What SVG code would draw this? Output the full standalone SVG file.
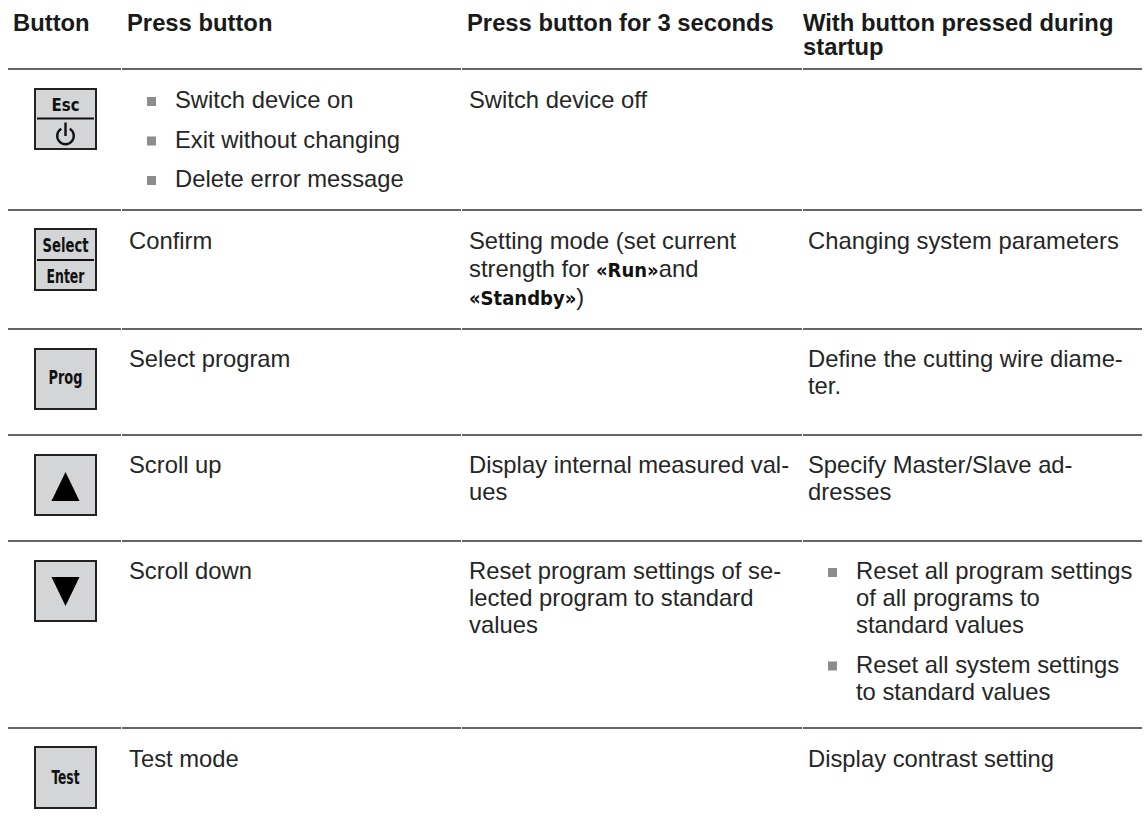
<svg xmlns="http://www.w3.org/2000/svg" width="1148" height="830" viewBox="0 0 1148 830">
<style>
  .hd { font-family: "Liberation Sans", Arial, sans-serif; font-size: 23.8px; font-weight: bold; fill: #1a1a1a; }
  .tx { font-family: "Liberation Sans", Arial, sans-serif; font-size: 23.8px; fill: #262626; }
  .kb { font-family: "Liberation Sans Narrow", "DejaVu Sans Condensed", "Liberation Sans", sans-serif; font-weight: bold; fill: #111; }
  .em { font-family: "Liberation Sans Narrow", "DejaVu Sans Condensed", "Liberation Sans", sans-serif; font-weight: bold; font-size: 20px; fill: #111; }
  .key { fill: #d4d5d7; stroke: #222; stroke-width: 2; }
  .div { stroke: #111; stroke-width: 2.2; }
  .rule { stroke: #333; stroke-width: 1.6; fill: none; }
  .bul { fill: #8c8c8c; }
</style>
<rect x="0" y="0" width="1148" height="830" fill="#ffffff"/>

<g id="rules">
  <path class="rule" d="M8 69H121M122 69H461M462 69H802M803 69H1142"/>
  <path class="rule" d="M8 210H121M122 210H461M462 210H802M803 210H1142"/>
  <path class="rule" d="M8 329H121M122 329H461M462 329H802M803 329H1142"/>
  <path class="rule" d="M8 435H121M122 435H461M462 435H802M803 435H1142"/>
  <path class="rule" d="M8 541H121M122 541H461M462 541H802M803 541H1142"/>
  <path class="rule" d="M8 728H121M122 728H461M462 728H802M803 728H1142"/>
</g>

<g id="header">
  <text class="hd" x="13" y="31">Button</text>
  <text class="hd" x="127" y="31">Press button</text>
  <text class="hd" x="467" y="31">Press button for 3 seconds</text>
  <text class="hd" x="803" y="31">With button pressed during<tspan x="803" y="55">startup</tspan></text>
</g>

<g id="row-esc">
  <rect class="key" x="35" y="89" width="61" height="60"/>
  <text class="kb" x="65.5" y="111" font-size="18" text-anchor="middle" textLength="28" lengthAdjust="spacingAndGlyphs">Esc</text>
  <line class="div" x1="37" y1="118.5" x2="94" y2="118.5"/>
  <path d="M61.3 128.8A8.3 8.3 0 1 0 69.7 128.8" fill="none" stroke="#111" stroke-width="2.4"/>
  <line x1="65.5" y1="122.5" x2="65.5" y2="136" stroke="#111" stroke-width="2.4"/>
  <rect class="bul" x="147" y="97" width="9" height="9"/>
  <text class="tx" x="175" y="108">Switch device on</text>
  <rect class="bul" x="147" y="136.5" width="9" height="9"/>
  <text class="tx" x="175" y="147.5">Exit without changing</text>
  <rect class="bul" x="147" y="176" width="9" height="9"/>
  <text class="tx" x="175" y="187">Delete error message</text>
  <text class="tx" x="469" y="108">Switch device off</text>
</g>

<g id="row-select">
  <rect class="key" x="35" y="229" width="61" height="61"/>
  <text class="kb" x="65.5" y="252" font-size="19.5" text-anchor="middle" textLength="46" lengthAdjust="spacingAndGlyphs">Select</text>
  <line class="div" x1="37" y1="260" x2="94" y2="260"/>
  <text class="kb" x="65.5" y="283" font-size="19.5" text-anchor="middle" textLength="38" lengthAdjust="spacingAndGlyphs">Enter</text>
  <text class="tx" x="129" y="249">Confirm</text>
  <text class="tx" x="469" y="249">Setting mode (set current</text>
  <text class="tx" x="469" y="277">strength for <tspan class="em">«Run»</tspan>and</text>
  <text class="tx" x="469" y="305"><tspan class="em">«Standby»</tspan>)</text>
  <text class="tx" x="808" y="249">Changing system parameters</text>
</g>

<g id="row-prog">
  <rect class="key" x="35" y="349" width="61" height="60"/>
  <text class="kb" x="65.5" y="384" font-size="19" text-anchor="middle" textLength="34" lengthAdjust="spacingAndGlyphs">Prog</text>
  <text class="tx" x="129" y="367">Select program</text>
  <text class="tx" x="808" y="367">Define the cutting wire diame-</text>
  <text class="tx" x="808" y="394">ter.</text>
</g>

<g id="row-up">
  <rect class="key" x="35" y="455" width="61" height="60"/>
  <polygon points="65.5,472 51.5,501 79.5,501" fill="#000"/>
  <text class="tx" x="129" y="473">Scroll up</text>
  <text class="tx" x="469" y="473">Display internal measured val-</text>
  <text class="tx" x="469" y="500">ues</text>
  <text class="tx" x="808" y="473">Specify Master/Slave ad-</text>
  <text class="tx" x="808" y="500">dresses</text>
</g>

<g id="row-down">
  <rect class="key" x="35" y="561" width="61" height="60"/>
  <polygon points="51.5,577 79.5,577 65.5,606" fill="#000"/>
  <text class="tx" x="129" y="579">Scroll down</text>
  <text class="tx" x="469" y="579">Reset program settings of se-</text>
  <text class="tx" x="469" y="606">lected program to standard</text>
  <text class="tx" x="469" y="633">values</text>
  <rect class="bul" x="828" y="568" width="9" height="9"/>
  <text class="tx" x="856" y="579">Reset all program settings</text>
  <text class="tx" x="856" y="606">of all programs to</text>
  <text class="tx" x="856" y="633">standard values</text>
  <rect class="bul" x="828" y="661.5" width="9" height="9"/>
  <text class="tx" x="856" y="672.5">Reset all system settings</text>
  <text class="tx" x="856" y="699.5">to standard values</text>
</g>

<g id="row-test">
  <rect class="key" x="35" y="747" width="61" height="61"/>
  <text class="kb" x="65.5" y="784" font-size="19" text-anchor="middle" textLength="28" lengthAdjust="spacingAndGlyphs">Test</text>
  <text class="tx" x="129" y="767">Test mode</text>
  <text class="tx" x="808" y="767">Display contrast setting</text>
</g>
</svg>
